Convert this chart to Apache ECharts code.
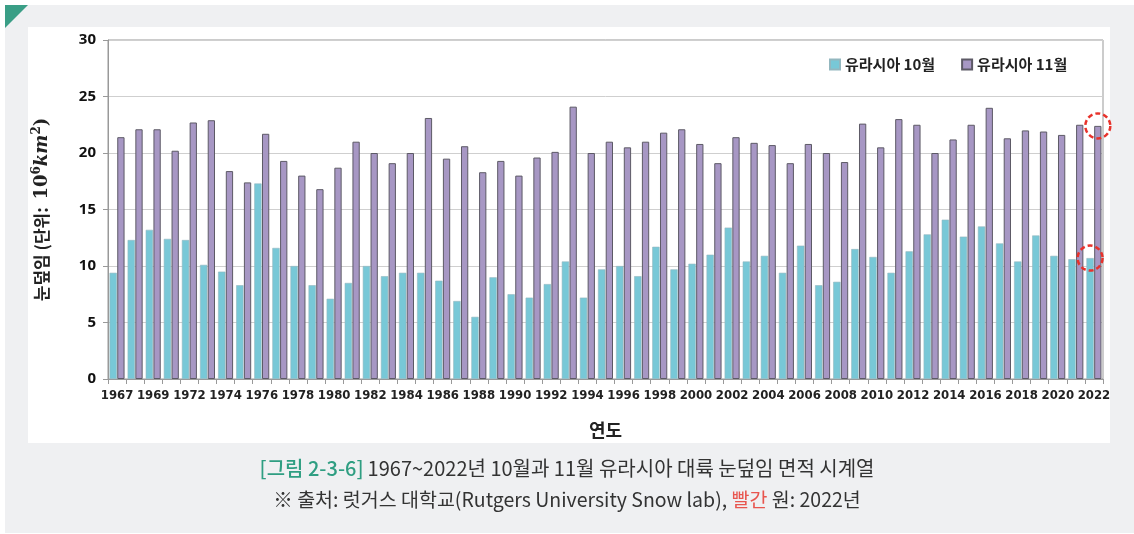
<!DOCTYPE html>
<html>
<head>
<meta charset="utf-8">
<script src="https://cdn.jsdelivr.net/npm/echarts@6/dist/echarts.min.js"></script>
<style>
  html, body { margin: 0; padding: 0; background: #fff; }
  #chart { width: 1134px; height: 534px; }
</style>
</head>
<body>
<div id="chart"></div>
<script>
// 연도 (1970 자료 없음)
const years = [
  '1967', '1968', '1969', '1971', '1972', '1973', '1974', '1975', '1976', '1977',
  '1978', '1979', '1980', '1981', '1982', '1983', '1984', '1985', '1986', '1987',
  '1988', '1989', '1990', '1991', '1992', '1993', '1994', '1995', '1996', '1997',
  '1998', '1999', '2000', '2001', '2002', '2003', '2004', '2005', '2006', '2007',
  '2008', '2009', '2010', '2011', '2012', '2013', '2014', '2015', '2016', '2017',
  '2018', '2019', '2020', '2021', '2022'
]

// 유라시아 10월 눈덮임 (10^6 km^2)
const octSnow = [
  9.4, 12.3, 13.2, 12.4, 12.3, 10.1, 9.5, 8.3, 17.3, 11.6,
  10.0, 8.3, 7.1, 8.5, 10.0, 9.1, 9.4, 9.4, 8.7, 6.9,
  5.5, 9.0, 7.5, 7.2, 8.4, 10.4, 7.2, 9.7, 10.0, 9.1,
  11.7, 9.7, 10.2, 11.0, 13.4, 10.4, 10.9, 9.4, 11.8, 8.3,
  8.6, 11.5, 10.8, 9.4, 11.3, 12.8, 14.1, 12.6, 13.5, 12.0,
  10.4, 12.7, 10.9, 10.6, 10.7
]

// 유라시아 11월 눈덮임
const novSnow = [
  21.4, 22.1, 22.1, 20.2, 22.7, 22.9, 18.4, 17.4, 21.7, 19.3,
  18.0, 16.8, 18.7, 21.0, 20.0, 19.1, 20.0, 23.1, 19.5, 20.6,
  18.3, 19.3, 18.0, 19.6, 20.1, 24.1, 20.0, 21.0, 20.5, 21.0,
  21.8, 22.1, 20.8, 19.1, 21.4, 20.9, 20.7, 19.1, 20.8, 20.0,
  19.2, 22.6, 20.5, 23.0, 22.5, 20.0, 21.2, 22.5, 24.0, 21.3,
  22.0, 21.9, 21.6, 22.5, 22.4
]

const yTicks = [0, 5, 10, 15, 20, 25, 30]

const dom = document.querySelector('#chart')
const myChart = echarts.init(dom)

// 빨간 점선 원 (2022년)
function redCircle(value) {
  return {
    symbol: 'circle',
    symbolSize: 25,
    silent: true,
    label: { show: false },
    itemStyle: {
      color: 'rgba(0,0,0,0)',
      borderColor: '#e8322b',
      borderWidth: 2.5,
      borderType: [5, 3]
    },
    data: [{ coord: [years[years.length - 1], value] }]
  }
}

const capFont = '"Noto Sans CJK KR"'

const option = {
  animation: false,
  textStyle: { fontFamily: '"Noto Sans CJK KR", "Noto Sans", sans-serif' },
  // 배경 패널
  graphic: [
    { type: 'rect', z: -10, shape: { x: 5, y: 5, width: 1129, height: 528 }, style: { fill: '#eff0f2' } },
    { type: 'rect', z: -9, shape: { x: 28, y: 27, width: 1082, height: 416 }, style: { fill: '#fff' } },
    { type: 'polygon', z: -8, shape: { points: [[5, 5], [28, 5], [5, 28]] }, style: { fill: '#3a9e86' } }
  ],
  // 캡션
  title: [
    {
      left: 'center',
      top: 453,
      text: '{g|[그림 2-3-6]} {t|1967~2022년 10월과 11월 유라시아 대륙 눈덮임 면적 시계열}',
      textStyle: {
        fontWeight: 'normal',
        rich: {
          g: { fontSize: 20, fontWeight: 500, color: '#2f9e82', fontFamily: capFont },
          t: { fontSize: 20, fontWeight: 'normal', color: '#333', fontFamily: capFont }
        }
      }
    },
    {
      left: 'center',
      top: 485,
      text: '{t|※ 출처: 럿거스 대학교(Rutgers University Snow lab), }{r|빨간}{t| 원: 2022년}',
      textStyle: {
        fontWeight: 'normal',
        rich: {
          t: { fontSize: 19.5, fontWeight: 'normal', color: '#333', fontFamily: capFont },
          r: { fontSize: 19.5, fontWeight: 'normal', color: '#e8554e', fontFamily: capFont }
        }
      }
    }
  ],
  legend: {
    left: 824,
    top: 52,
    itemWidth: 10,
    itemHeight: 10,
    itemGap: 26,
    icon: 'rect',
    textStyle: { fontSize: 15, fontWeight: 'bold', color: '#222', fontFamily: capFont },
    data: ['유라시아 10월', '유라시아 11월']
  },
  grid: {
    left: 108,
    right: 31,
    top: 40,
    bottom: 155,
    show: true,
    borderColor: '#999',
    borderWidth: 1
  },
  xAxis: {
    type: 'category',
    data: years,
    name: '연도',
    nameLocation: 'middle',
    nameGap: 42,
    nameTextStyle: { fontSize: 18, fontWeight: 'bold', color: '#222', fontFamily: capFont },
    axisLine: { lineStyle: { color: '#999' } },
    axisTick: { show: true, interval: 0, length: 5, lineStyle: { color: '#999' } },
    axisLabel: {
      interval: 1,
      margin: 10,
      fontSize: 13,
      fontWeight: 'bold',
      color: '#222',
      fontFamily: '"DejaVu Sans Condensed", "Roboto Condensed", Roboto, sans-serif'
    }
  },
  yAxis: {
    type: 'value',
    min: yTicks[0],
    max: yTicks[yTicks.length - 1],
    interval: yTicks[1] - yTicks[0],
    name: '{b|눈덮임 (단위:  }{m|10}{s|6}{k|km}{s|2}{m|)}',
    nameLocation: 'middle',
    nameRotate: 90,
    nameGap: 55,
    nameTextStyle: {
      rich: {
        b: { fontSize: 17, fontWeight: 'bold', color: '#222', fontFamily: capFont },
        m: { fontSize: 18, fontWeight: 'bold', color: '#222', fontFamily: '"DejaVu Serif", serif' },
        k: { fontSize: 18, fontWeight: 'bold', fontStyle: 'italic', color: '#222', fontFamily: '"DejaVu Serif", serif' },
        s: { fontSize: 12, fontWeight: 'bold', color: '#222', fontFamily: '"DejaVu Serif", serif', padding: [0, 0, 10, 0] }
      }
    },
    axisLine: { show: true, lineStyle: { color: '#999' } },
    axisTick: { show: true, length: 5, lineStyle: { color: '#999' } },
    axisLabel: { fontSize: 15, fontWeight: 'bold', color: '#111', margin: 12, fontFamily: '"Noto Sans", sans-serif' },
    splitLine: { lineStyle: { color: '#cfcfcf' } }
  },
  series: [
    {
      name: '유라시아 10월',
      type: 'bar',
      data: octSnow,
      barGap: '6%',
      barCategoryGap: '17%',
      itemStyle: { color: '#78c8d7', borderColor: '#93b7bf', borderWidth: 0.6 },
      markPoint: redCircle(octSnow[octSnow.length - 1])
    },
    {
      name: '유라시아 11월',
      type: 'bar',
      data: novSnow,
      itemStyle: { color: '#a797c4', borderColor: '#5d5a66', borderWidth: 1 },
      markPoint: redCircle(novSnow[novSnow.length - 1])
    }
  ]
}

myChart.setOption(option)
</script>
</body>
</html>
